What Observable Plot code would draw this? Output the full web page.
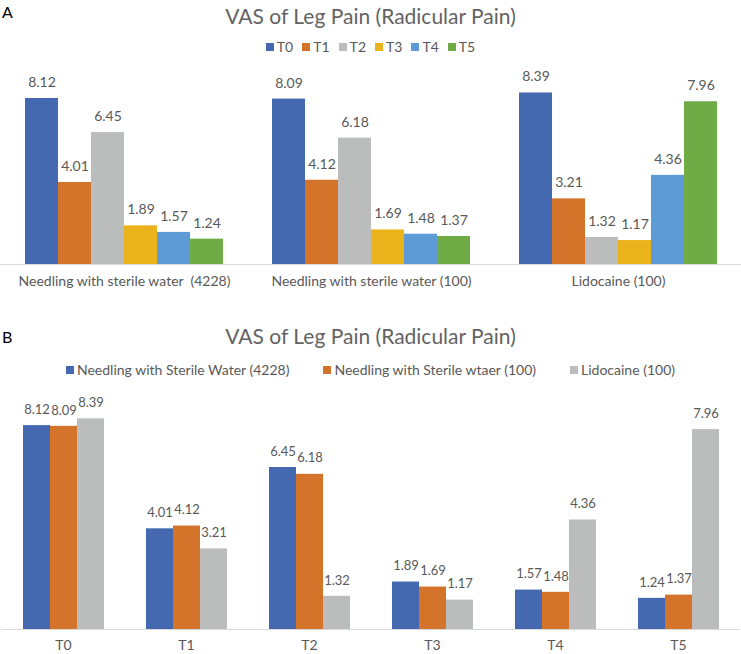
<!DOCTYPE html>
<html>
<head>
<meta charset="utf-8">
<script src="https://cdn.jsdelivr.net/npm/d3@7"></script>
<script src="https://cdn.jsdelivr.net/npm/@observablehq/plot@0.6"></script>
<style>
  body { margin: 0; width: 741px; height: 654px; position: relative; background: #fff; font-family: Lato, "Open Sans", sans-serif; overflow: hidden; }
  .panel { position: absolute; left: 0; }
  .title { position: absolute; left: 0; width: 741px; text-align: center; font-size: 21px; line-height: 24px; color: #636363; }
  .letter { position: absolute; left: 2px; font-size: 16px; color: #000; }
  .legend { position: absolute; left: 0; width: 741px; display: flex; justify-content: center; font-size: 14px; line-height: 16px; color: #595959; }
  .legend .item { display: flex; align-items: center; white-space: pre; }
  .legend .sw { width: 8px; height: 8px; margin-right: 3px; display: inline-block; }
  svg text { white-space: pre; }
</style>
</head>
<body>
<div class="letter" style="top:2px">A</div>
<div class="title" style="top:4px">VAS of Leg Pain (Radicular Pain)</div>
<div class="legend" id="legA" style="top:39px"></div>
<div class="panel" id="chartA" style="top:60px"></div>

<div class="letter" style="top:327px">B</div>
<div class="title" style="top:324px">VAS of Leg Pain (Radicular Pain)</div>
<div class="legend" id="legB" style="top:362px"></div>
<div class="panel" id="chartB" style="top:385px"></div>

<script>
// ---- data ----
const groups = ["Needling with sterile water  (4228)", "Needling with sterile water (100)", "Lidocaine (100)"];
const legendGroups = ["Needling with Sterile Water (4228)", "Needling with Sterile wtaer (100)", "Lidocaine (100)"];
const times = ["T0", "T1", "T2", "T3", "T4", "T5"];
const water4228 = [8.12, 4.01, 6.45, 1.89, 1.57, 1.24];
const water100 = [8.09, 4.12, 6.18, 1.69, 1.48, 1.37];
const lidocaine100 = [8.39, 3.21, 1.32, 1.17, 4.36, 7.96];

const timeColors = ["#4569B0", "#D4732A", "#BBBCBC", "#EAB31C", "#5C9BD5", "#70AC46"];
const groupColors = ["#4569B0", "#D4732A", "#BBBCBC"];

const series = [water4228, water100, lidocaine100];
const rows = [];
groups.forEach((g, gi) => times.forEach((t, ti) => rows.push({group: g, gi, time: t, value: series[gi][ti]})));

const fmt = d3.format(".2f");
const W = 741;
const FONT = "Lato, 'Open Sans', sans-serif";

function legend(el, names, colors, gap) {
  const box = document.getElementById(el);
  names.forEach((n, i) => {
    const it = document.createElement("div");
    it.className = "item";
    if (i > 0) it.style.marginLeft = gap + "px";
    const sw = document.createElement("span");
    sw.className = "sw";
    sw.style.background = colors[i];
    it.appendChild(sw);
    it.appendChild(document.createTextNode(n));
    box.appendChild(it);
  });
}
legend("legA", times, timeColors, 9);
legend("legB", legendGroups, groupColors, 34);

// ---- Panel A ----
{
  const pIn = 0.2, pOut = 0.1;
  const step = W / groups.length;
  const ext = step * pOut;
  const chart = Plot.plot({
    width: W,
    height: 234,
    marginTop: 20,
    marginBottom: 30,
    marginLeft: 0,
    marginRight: 0,
    style: {fontFamily: FONT, fontSize: "14px", color: "#595959", background: "transparent"},
    fx: {domain: groups, paddingInner: pIn, paddingOuter: pOut, label: null, axis: "bottom", tickSize: 0, tickPadding: 12},
    x: {domain: times, padding: 0, axis: null},
    y: {domain: [0, 9], axis: null},
    color: {domain: times, range: timeColors},
    marks: [
      Plot.ruleY([0], {stroke: "#D9D9D9", strokeWidth: 1, insetLeft: -ext, insetRight: -ext}),
      Plot.barY(rows, {fx: "group", x: "time", y: "value", fill: "time"}),
      Plot.text(rows, {fx: "group", x: "time", y: "value", text: d => fmt(d.value), dy: -16, fill: "#595959", fontSize: 14})
    ]
  });
  document.getElementById("chartA").appendChild(chart);
}

// ---- Panel B ----
{
  const pIn = 0.336, pOut = 0.168;
  const step = W / times.length;
  const ext = step * pOut;
  const chart = Plot.plot({
    width: W,
    height: 269,
    marginTop: 18,
    marginBottom: 25,
    marginLeft: 0,
    marginRight: 0,
    style: {fontFamily: FONT, fontSize: "14px", color: "#595959", background: "transparent"},
    fx: {domain: times, paddingInner: pIn, paddingOuter: pOut, label: null, axis: "bottom", tickSize: 0, tickPadding: 11},
    x: {domain: groups, padding: 0, axis: null},
    y: {domain: [0, 9], axis: null},
    color: {domain: groups, range: groupColors},
    marks: [
      Plot.ruleY([0], {stroke: "#D9D9D9", strokeWidth: 1, insetLeft: -ext, insetRight: -ext}),
      Plot.barY(rows, {fx: "time", x: "group", y: "value", fill: "group"}),
      Plot.text(rows, {fx: "time", x: "group", y: "value", text: d => fmt(d.value), dy: -16, fill: "#595959", fontSize: 13, letterSpacing: "-0.2px"})
    ]
  });
  document.getElementById("chartB").appendChild(chart);
}
</script>
</body>
</html>
